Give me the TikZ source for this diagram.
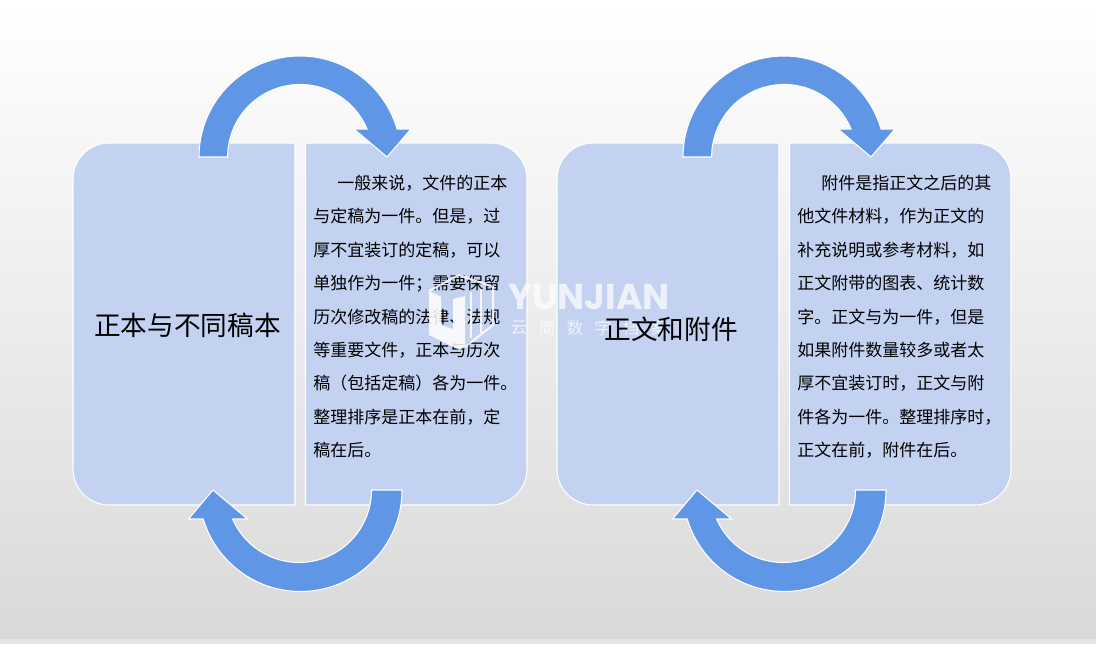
\documentclass[tikz,border=0pt]{standalone}
\usepackage{fontspec}
\setmainfont{Noto Sans CJK SC}
\newfontfamily\latinwm{Poppins}
\definecolor{panelblue}{RGB}{195, 210, 241}
\definecolor{arrowblue}{RGB}{95, 151, 230}
\definecolor{bggray}{RGB}{217, 217, 217}
\definecolor{stripgray}{RGB}{228, 228, 228}
\usetikzlibrary{positioning, calc}
\tikzset{
  panelbox/.style={fill=panelblue, draw=white, line width=0.8pt},
  bendarrow/.style={fill=arrowblue, draw=white, line width=0.8pt},
  bodytext/.style={anchor=north west, align=left, inner sep=0pt, font=\fontsize{12.75pt}{25.1pt}\selectfont},
  titletext/.style={inner sep=0pt, font=\fontsize{20pt}{24pt}\selectfont},
  markfill/.style={fill=white, opacity=0.85},
  markline/.style={draw=white, opacity=0.85, line width=1.5pt},
  marktext/.style={text=white, text opacity=0.7, inner sep=0pt}
}

\begin{document}
\begin{tikzpicture}[x=0.75pt, y=0.75pt]
  \useasboundingbox (0,0) rectangle (1096,644);

  % Background
  \path[top color=white, bottom color=bggray] (0,5) rectangle (1096,644);
  \fill[stripgray] (0,0) rectangle (1096,5);

  % Panels and arrows of both groups
  \foreach \dx in {0,484} {
    \begin{scope}[xshift=\dx*0.75pt]
      \draw[panelbox] (295,139) -- (109,139) arc[start angle=270, end angle=180, radius=36] -- (73,465) arc[start angle=180, end angle=90, radius=36] -- (295,501) -- cycle;
      \draw[panelbox] (305.5,139) -- (491,139) arc[start angle=-90, end angle=0, radius=36] -- (527,465) arc[start angle=0, end angle=90, radius=36] -- (305.5,501) -- cycle;
      \draw[bendarrow] (199,487) arc[start angle=180, end angle=16, radius=101] -- (411,515) -- (387,487) -- (354,515) -- (367,515) arc[start angle=22.7, end angle=180, radius=72.5] -- cycle;
      \draw[bendarrow] (402,154) arc[start angle=0, end angle=-163.4, radius=101.5] -- (188.5,125) -- (213,154) -- (247.5,125) -- (232.6,125) arc[start angle=-156.4, end angle=0, radius=72.5] -- cycle;
    \end{scope}
  }

  % Left group texts
  \node[titletext] (titleleft) at (187.5,319) {正本与不同稿本};
  \node[bodytext] (bodyleft) at (313,469.5) {\hspace*{18pt}一般来说，文件的正本\\
    与定稿为一件。但是，过\\
    厚不宜装订的定稿，可以\\
    单独作为一件；需要保留\\
    历次修改稿的法律、法规\\
    等重要文件，正本与历次\\
    稿（包括定稿）各为一件。\\
    整理排序是正本在前，定\\
    稿在后。};

  % Right group body
  \node[bodytext] (bodyright) at (797,469.5) {\hspace*{18pt}附件是指正文之后的其\\
    他文件材料，作为正文的\\
    补充说明或参考材料，如\\
    正文附带的图表、统计数\\
    字。正文与为一件，但是\\
    如果附件数量较多或者太\\
    厚不宜装订时，正文与附\\
    件各为一件。整理排序时，\\
    正文在前，附件在后。};

  % Watermark
  \fill[markfill] (429,353) -- (441,347) -- (441,319) -- (453,315) -- (453,345) -- (465,348) -- (465,299) -- (460,294) -- (429,309) -- cycle;
  \draw[markline] (429,353) -- (459,369) -- (493,357) -- (493,319) -- (465,297);
  \draw[markline] (471,352) -- (471,306);
  \draw[markline] (481,355) -- (481,311);
  \node[marktext, font=\latinwm\bfseries\fontsize{27pt}{32pt}\selectfont] (markword) at (589,347) {YUNJIAN};
  \foreach \ch [count=\i] in {云,简,数,字,档,案} {
    \node[marktext, font=\fontsize{12.5pt}{15pt}\selectfont] (markchar\i) at (519+\i*28-28,316) {\ch};
  }

  % Right group title
  \node[titletext] (titleright) at (671,315) {正文和附件};
\end{tikzpicture}
\end{document}
